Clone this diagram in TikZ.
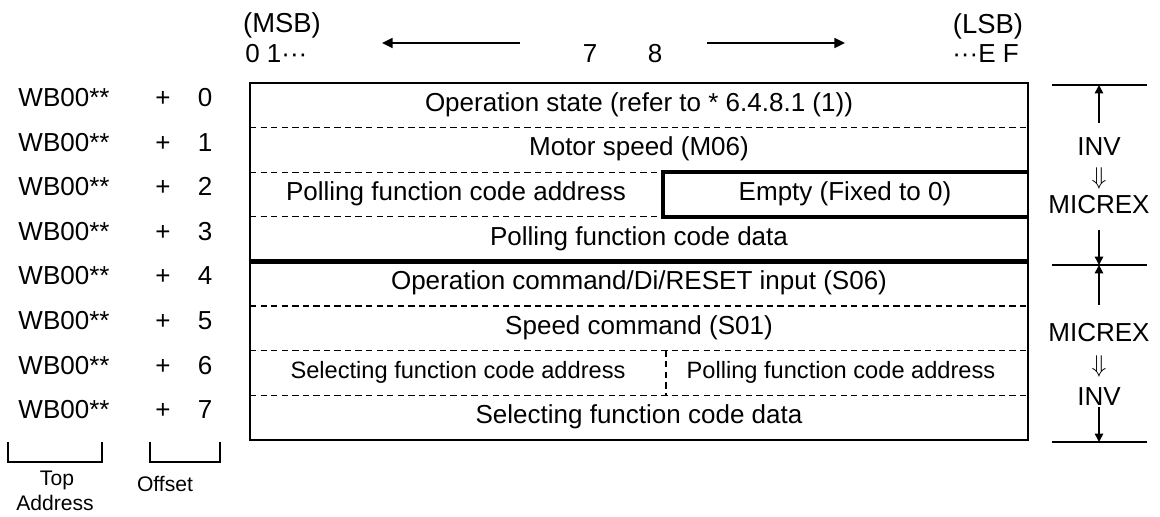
\documentclass[tikz,border=0pt]{standalone}
\usepackage{fontspec}
\setmainfont{Liberation Sans}
\usetikzlibrary{arrows.meta, positioning, calc}

\begin{document}
\begin{tikzpicture}[x=0.025cm, y=-0.025cm,
    field/.style={inner sep=0pt, anchor=base, font=\fontsize{18.5}{22}\selectfont},
    subfield/.style={inner sep=0pt, anchor=base, font=\fontsize{16.8}{20}\selectfont},
    note/.style={inner sep=0pt, anchor=base, font=\fontsize{15}{18}\selectfont},
    sep/.style={line width=0.9pt, dash pattern=on 4.5pt off 3pt},
    frame/.style={line width=1.5pt},
    heavy/.style={line width=3pt},
    arrow/.style={-{Triangle[length=6pt, width=6pt]}, line width=1.2pt},
    bitarrow/.style={-{Triangle[length=7.5pt, width=7pt]}, line width=1.4pt}
]
\path[use as bounding box] (0,0) rectangle (1160,517);

\node[field, font=\fontsize{19.5}{22}\selectfont] (msb) at (282,33) {(MSB)};
\node[field, anchor=base west] (first) at (245,63) {0 1···};
\node[field] (b7) at (590,63) {7};
\node[field] (b8) at (655,63) {8};
\node[field, font=\fontsize{19.5}{22}\selectfont] (lsb) at (988,34) {(LSB)};
\node[field, anchor=base east] (last) at (1019,63) {···E F};
\coordinate (msbtail) at (520,43);
\coordinate (msbhead) at (382,43);
\coordinate (lsbtail) at (707,43);
\coordinate (lsbhead) at (845,43);
\draw[bitarrow] (msbtail) -- (msbhead);
\draw[bitarrow] (lsbtail) -- (lsbhead);

\foreach \i in {0,...,7} {
  \node[field] (wb\i) at (64,{83+44.6*\i+23.5}) {WB00**};
  \node[field] (plus\i) at (163,{83+44.6*\i+23.5}) {+};
  \node[field] (off\i) at (205,{83+44.6*\i+23.5}) {\i};
}

\foreach \i in {1,5,6,7}
  \draw[sep] (250,{83+44.6*\i}) -- (1028,{83+44.6*\i});
\foreach \i in {2,3}
  \draw[sep] (250,{83+44.6*\i}) -- (663,{83+44.6*\i});
\draw[sep] (666,350.6) -- (666,395.2);
\draw[heavy] (1028,172.2) -- (663,172.2) -- (663,216.8) -- (1028,216.8);
\draw[heavy] (250,261.4) -- (1028,261.4);
\draw[frame] (250,83) rectangle (1028,440);

\node[field] (r0) at (639,112) {Operation state (refer to * 6.4.8.1 (1))};
\node[field] (r1) at (639,156) {Motor speed (M06)};
\node[field] (r2a) at (456,200.5) {Polling function code address};
\node[field] (r2b) at (845,200.5) {Empty (Fixed to 0)};
\node[field] (r3) at (639,246) {Polling function code data};
\node[field] (r4) at (639,290) {Operation command/Di/RESET input (S06)};
\node[field] (r5) at (639,334.5) {Speed command (S01)};
\node[subfield] (r6a) at (458,378.5) {Selecting function code address};
\node[subfield] (r6b) at (841,378.5) {Polling function code address};
\node[field] (r7) at (639,424) {Selecting function code data};

\draw[frame] (8,442) -- (8,462) -- (102,462) -- (102,442);
\draw[frame] (150,442) -- (150,462) -- (220,462) -- (220,442);
\node[note] (top) at (57,486) {Top};
\node[note] (address) at (55,511) {Address};
\node[note] (offset) at (165,492) {Offset};

\draw[frame] (1052,85) -- (1147,85);
\draw[frame] (1052,265) -- (1147,265);
\draw[frame] (1052,442) -- (1147,442);
\node[field] (inv1) at (1099,156) {INV};
\node[field] (dn1) at (1099,185) {$\Downarrow$};
\node[field] (mic1) at (1099,214) {MICREX};
\node[field] (mic2) at (1099,342) {MICREX};
\node[field] (dn2) at (1099,373) {$\Downarrow$};
\node[field] (inv2) at (1099,406) {INV};
\coordinate (up1s) at (1099,123);
\coordinate (up1e) at (1099,85);
\coordinate (dw1s) at (1099,230);
\coordinate (dw1e) at (1099,265);
\coordinate (up2s) at (1099,305);
\coordinate (up2e) at (1099,265);
\coordinate (dw2s) at (1099,407);
\coordinate (dw2e) at (1099,442);
\draw[arrow] (up1s) -- (up1e);
\draw[arrow] (dw1s) -- (dw1e);
\draw[arrow] (up2s) -- (up2e);
\draw[arrow] (dw2s) -- (dw2e);
\end{tikzpicture}
\end{document}
